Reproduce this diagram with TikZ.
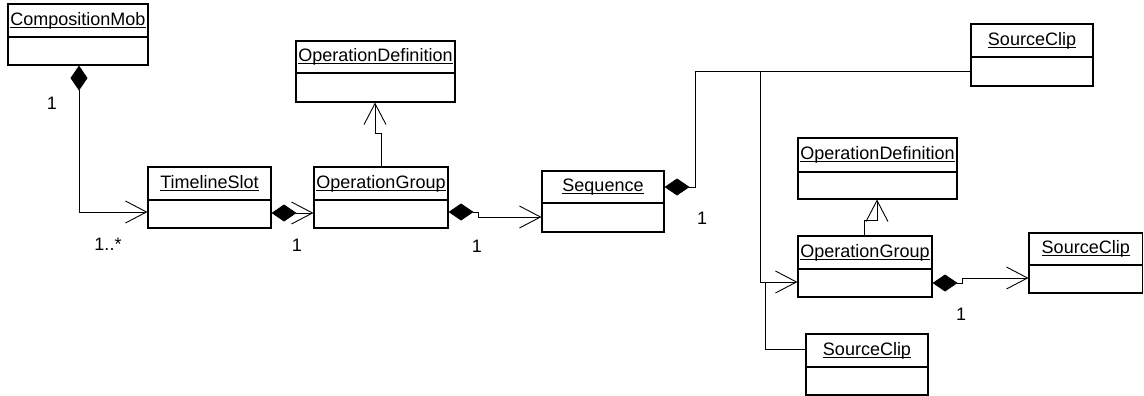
\documentclass[tikz,border=0pt]{standalone}
\usepackage{fontspec}
\setmainfont{Liberation Sans}
\usetikzlibrary{arrows.meta}

% class name with a thin underline just below the baseline
\newcommand\clsname[1]{\setbox0\hbox{#1}\rlap{\rule[-2.4pt]{\wd0}{0.9pt}}\box0}

\tikzset{
  cls/.style={draw, line width=1.1pt, inner sep=0pt},
  ttl/.style={font=\fontsize{18}{20}\selectfont, inner sep=0pt},
  mult/.style={font=\fontsize{18}{20}\selectfont, inner sep=0pt},
  link/.style={line width=0.9pt},
  comp/.style={link, {Diamond[length=25pt,width=17pt]}-},
  nav/.style={link, -{Straight Barb[length=21pt,width=22pt]}},
  compnav/.style={link, {Diamond[length=25pt,width=17pt]}-{Straight Barb[length=21pt,width=22pt]}},
}

% name, x1, y1, x2, y2, divider y, title
\newcommand\umlclass[7]{%
  \node[cls, minimum width={(#4-#2)*1pt}, minimum height={(#5-#3)*1pt}] (#1) at ({(#2+#4)/2},{(#3+#5)/2}) {};
  \draw[line width=1.1pt] (#1.west |- 0,#6) -- (#1.east |- 0,#6);
  \node[ttl] (#1-name) at ({(#2+#4)/2},{(#3+#6)/2}) {\clsname{#7}};
}

\begin{document}
\begin{tikzpicture}[x=1pt, y=-1pt]
\useasboundingbox (0,0) rectangle (1144,396);

% classes
\umlclass{cm}{8}{4}{148}{65}{37}{CompositionMob}
\umlclass{ts}{148}{167}{271}{228}{200}{TimelineSlot}
\umlclass{od1}{296}{41}{455}{102}{73}{OperationDefinition}
\umlclass{og1}{314}{167}{448}{228}{200}{OperationGroup}
\umlclass{seq}{542}{171}{664}{232}{203}{Sequence}
\umlclass{sc1}{971}{24}{1093}{86}{57}{SourceClip}
\umlclass{od2}{798}{138}{957}{199}{172}{OperationDefinition}
\umlclass{og2}{798}{236}{932}{297}{269}{OperationGroup}
\umlclass{sc2}{1029}{233}{1142.5}{293}{265}{SourceClip}
\umlclass{sc3}{806}{334}{928}{395}{367}{SourceClip}

% associations
\draw[compnav] (cm.south -| 79,0) -- (79,212) -- (ts.west |- 0,212);
\draw[compnav] (ts.east |- 0,213) -- (og1.west |- 0,213);
\draw[nav] (og1.north -| 381,0) -- (381,133) -- (375,133) -- (od1.south -| 375,0);
\draw[compnav] (og1.east |- 0,212) -- (478,212) -- (478,217) -- (seq.west |- 0,217);
\draw[comp] (seq.east |- 0,187) -- (695,187) -- (695,71) -- (sc1.west |- 0,71);
\coordinate (j1) at (760,71);
\draw[nav] (j1) -- (j1 |- 0,282) -- (og2.west |- 0,282);
\coordinate (j2) at (765,282);
\draw[link] (j2) -- (765,349) -- (sc3.west |- 0,349);
\draw[nav] (og2.north -| 864,0) -- (864,220) -- (877,220) -- (od2.south -| 877,0);
\draw[compnav] (og2.east |- 0,283) -- (962,283) -- (962,278) -- (sc2.west |- 0,278);

% multiplicities
\node[mult] (m1) at (52,103) {1};
\node[mult] (m2) at (108,244) {1..*};
\node[mult] (m3) at (297,245) {1};
\node[mult] (m4) at (477,246) {1};
\node[mult] (m5) at (702,218) {1};
\node[mult] (m6) at (961,314) {1};
\end{tikzpicture}
\end{document}
